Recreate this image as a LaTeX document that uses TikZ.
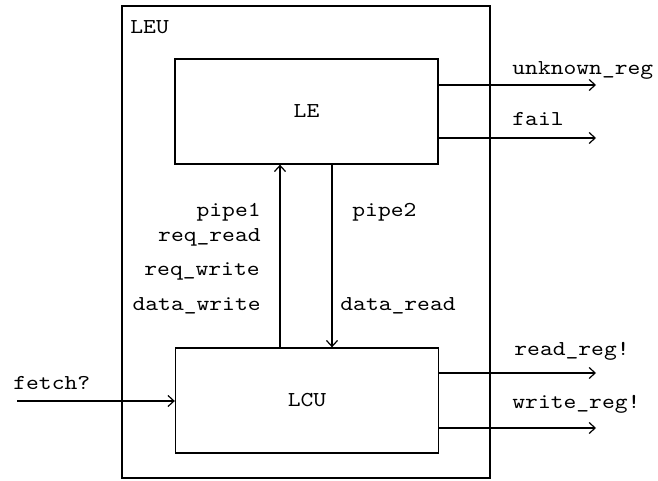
\documentclass[tikz,border=0pt]{standalone}
\usepackage{fontspec}
\setmonofont[FakeStretch=1.15]{Latin Modern Mono}
\usetikzlibrary{arrows.meta}
\begin{document}
\begin{tikzpicture}[x=0.5pt,y=-0.5pt,
  lbl/.style={font=\ttfamily\fontsize{10.6}{12}\selectfont, inner sep=0pt},
  blk/.style={draw, line width=0.65pt, minimum width=131.5pt, minimum height=52.5pt, inner sep=0pt, lbl},
  outerbox/.style={draw, line width=1pt, minimum width=184pt, minimum height=236pt, inner sep=0pt},
  arr/.style={line width=0.6pt, -{Straight Barb[length=3pt,width=5.5pt]}}]
\useasboundingbox (0,0) rectangle (658,481);
\node[outerbox] (LEU) at (306,242) {};
\node[lbl, anchor=base west] (leul) at (130,34) {LEU};
\node[blk] (LE) at (306.5,111.5) {LE};
\node[blk] (LCU) at (307,400.5) {LCU};
% vertical pipes
\coordinate (px1) at (280,0);
\coordinate (px2) at (332,0);
\draw[arr] (LCU.north -| px1) -- (LE.south -| px1);
\draw[arr] (LE.south -| px2) -- (LCU.north -| px2);
% outputs
\coordinate (u1) at (596,85);
\coordinate (u2) at (596,138);
\coordinate (u3) at (596,373);
\coordinate (u4) at (596,428);
\coordinate (f0) at (17,401);
\draw[arr] (LE.east |- u1) -- (u1);
\draw[arr] (LE.east |- u2) -- (u2);
\draw[arr] (LCU.east |- u3) -- (u3);
\draw[arr] (LCU.east |- u4) -- (u4);
\draw[arr] (f0) -- (LCU.west |- f0);
% labels
\node[lbl, anchor=base west] (l1) at (512,75) {unknown\_reg};
\node[lbl, anchor=base west] (l2) at (512,126) {fail};
\node[lbl, anchor=base west] (l3) at (514,355) {read\_reg!};
\node[lbl, anchor=base west] (l4) at (512,408) {write\_reg!};
\node[lbl, anchor=base west] (l5) at (13,389) {fetch?};
\node[lbl, anchor=base east] (p1) at (261,216) {pipe1};
\node[lbl, anchor=base east] (p2) at (261,241.5) {req\_read};
\node[lbl, anchor=base east] (p3) at (260,275.5) {req\_write};
\node[lbl, anchor=base east] (p4) at (261,310) {data\_write};
\node[lbl, anchor=base west] (q1) at (352,216) {pipe2};
\node[lbl, anchor=base west] (q2) at (340,310) {data\_read};
\end{tikzpicture}
\end{document}
